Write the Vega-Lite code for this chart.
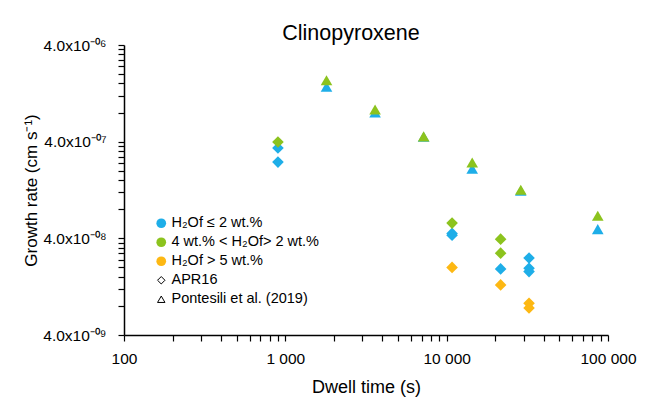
{
  "$schema": "https://vega.github.io/schema/vega-lite/v6.json",
  "width": 484,
  "height": 290,
  "autosize": {"type": "none"},
  "padding": {"left": 124, "top": 45, "right": 42, "bottom": 65},
  "background": "white",
  "title": {"text": "Clinopyroxene", "fontSize": 21.5, "font": "Liberation Sans", "fontWeight": "normal", "color": "black", "anchor": "middle", "dx": -15, "offset": -6},
  "config": {"view": {"stroke": null}, "font": "Liberation Sans"},
  "data": {"values": [
    {"t": 900, "g": 3.44e-7, "group": "H₂Of ≤ 2 wt.%", "study": "APR16"},
    {"t": 900, "g": 2.46e-7, "group": "H₂Of ≤ 2 wt.%", "study": "APR16"},
    {"t": 10800, "g": 4.5e-8, "group": "H₂Of ≤ 2 wt.%", "study": "APR16"},
    {"t": 10800, "g": 4.3e-8, "group": "H₂Of ≤ 2 wt.%", "study": "APR16"},
    {"t": 21600, "g": 1.93e-8, "group": "H₂Of ≤ 2 wt.%", "study": "APR16"},
    {"t": 32400, "g": 2.5e-8, "group": "H₂Of ≤ 2 wt.%", "study": "APR16"},
    {"t": 32400, "g": 1.96e-8, "group": "H₂Of ≤ 2 wt.%", "study": "APR16"},
    {"t": 32400, "g": 1.81e-8, "group": "H₂Of ≤ 2 wt.%", "study": "APR16"},
    {"t": 1800, "g": 1.48e-6, "group": "H₂Of ≤ 2 wt.%", "study": "Pontesili et al. (2019)"},
    {"t": 3600, "g": 8.0e-7, "group": "H₂Of ≤ 2 wt.%", "study": "Pontesili et al. (2019)"},
    {"t": 7200, "g": 4.5e-7, "group": "H₂Of ≤ 2 wt.%", "study": "Pontesili et al. (2019)"},
    {"t": 14400, "g": 2.1e-7, "group": "H₂Of ≤ 2 wt.%", "study": "Pontesili et al. (2019)"},
    {"t": 28800, "g": 1.24e-7, "group": "H₂Of ≤ 2 wt.%", "study": "Pontesili et al. (2019)"},
    {"t": 86400, "g": 4.98e-8, "group": "H₂Of ≤ 2 wt.%", "study": "Pontesili et al. (2019)"},
    {"t": 900, "g": 3.97e-7, "group": "4 wt.% < H₂Of> 2 wt.%", "study": "APR16"},
    {"t": 10800, "g": 5.75e-8, "group": "4 wt.% < H₂Of> 2 wt.%", "study": "APR16"},
    {"t": 21600, "g": 3.92e-8, "group": "4 wt.% < H₂Of> 2 wt.%", "study": "APR16"},
    {"t": 21600, "g": 2.81e-8, "group": "4 wt.% < H₂Of> 2 wt.%", "study": "APR16"},
    {"t": 1800, "g": 1.73e-6, "group": "4 wt.% < H₂Of> 2 wt.%", "study": "Pontesili et al. (2019)"},
    {"t": 3600, "g": 8.6e-7, "group": "4 wt.% < H₂Of> 2 wt.%", "study": "Pontesili et al. (2019)"},
    {"t": 7200, "g": 4.54e-7, "group": "4 wt.% < H₂Of> 2 wt.%", "study": "Pontesili et al. (2019)"},
    {"t": 14400, "g": 2.44e-7, "group": "4 wt.% < H₂Of> 2 wt.%", "study": "Pontesili et al. (2019)"},
    {"t": 28800, "g": 1.27e-7, "group": "4 wt.% < H₂Of> 2 wt.%", "study": "Pontesili et al. (2019)"},
    {"t": 86400, "g": 6.84e-8, "group": "4 wt.% < H₂Of> 2 wt.%", "study": "Pontesili et al. (2019)"},
    {"t": 10800, "g": 2.0e-8, "group": "H₂Of > 5 wt.%", "study": "APR16"},
    {"t": 21600, "g": 1.32e-8, "group": "H₂Of > 5 wt.%", "study": "APR16"},
    {"t": 32400, "g": 8.5e-9, "group": "H₂Of > 5 wt.%", "study": "APR16"},
    {"t": 32400, "g": 7.6e-9, "group": "H₂Of > 5 wt.%", "study": "APR16"}
  ]},
  "mark": {"type": "point", "filled": true, "opacity": 1, "size": 135},
  "encoding": {
    "x": {
      "field": "t", "type": "quantitative",
      "scale": {"type": "log", "domain": [100, 100000], "nice": false},
      "axis": {
        "title": "Dwell time (s)", "titleFontSize": 18, "titleFontWeight": "normal", "titleColor": "black", "titlePadding": 12,
        "values": [100,200,300,400,500,600,700,800,900,1000,2000,3000,4000,5000,6000,7000,8000,9000,10000,20000,30000,40000,50000,60000,70000,80000,90000,100000],
        "labelExpr": "datum.value == 100 ? '100' : datum.value == 1000 ? '1 000' : datum.value == 10000 ? '10 000' : datum.value == 100000 ? '100 000' : ''",
        "labelFontSize": 15.5, "labelColor": "black", "labelPadding": 10, "labelFlush": false, "labelOverlap": false,
        "grid": false, "domainColor": "black", "domainWidth": 1.5, "tickColor": "black", "tickWidth": 1.2, "tickSize": 6,
        "encode": {"ticks": {"update": {"y2": {"value": -6}}}}
      }
    },
    "y": {
      "field": "g", "type": "quantitative",
      "scale": {"type": "log", "domain": [4e-9, 4e-6], "nice": false},
      "axis": {
        "title": "Growth rate (cm s⁻¹)", "titleFontSize": 17, "titleFontWeight": "normal", "titleColor": "black", "titlePadding": 2,
        "values": [4e-9,8e-9,1.2e-8,1.6e-8,2e-8,2.4e-8,2.8e-8,3.2e-8,3.6e-8,4e-8,8e-8,1.2e-7,1.6e-7,2e-7,2.4e-7,2.8e-7,3.2e-7,3.6e-7,4e-7,8e-7,1.2e-6,1.6e-6,2e-6,2.4e-6,2.8e-6,3.2e-6,3.6e-6,4e-6],
        "labelExpr": "datum.value < 5e-9 ? '4.0x10⁻⁰⁹' : abs(datum.value - 4e-8) < 1e-10 ? '4.0x10⁻⁰⁸' : abs(datum.value - 4e-7) < 1e-9 ? '4.0x10⁻⁰⁷' : abs(datum.value - 4e-6) < 1e-8 ? '4.0x10⁻⁰⁶' : ''",
        "labelFontSize": 15.5, "labelColor": "black", "labelPadding": 12, "labelFlush": false, "labelOverlap": false,
        "grid": false, "domainColor": "black", "domainWidth": 1.5, "tickColor": "black", "tickWidth": 1.2, "tickSize": 6,
        "encode": {"ticks": {"update": {"x2": {"value": 6}}}}
      }
    },
    "color": {
      "field": "group", "type": "nominal",
      "scale": {"domain": ["H₂Of ≤ 2 wt.%", "4 wt.% < H₂Of> 2 wt.%", "H₂Of > 5 wt.%"], "range": ["#1eaee8", "#8cc31e", "#fdb813"]},
      "legend": {"title": null, "orient": "none", "legendX": 30, "legendY": 171, "symbolType": "circle", "symbolSize": 95, "symbolOpacity": 1, "labelFontSize": 14.5, "labelColor": "black", "rowPadding": 4, "labelOffset": 3}
    },
    "shape": {
      "field": "study", "type": "nominal",
      "scale": {"domain": ["APR16", "Pontesili et al. (2019)"], "range": ["diamond", "triangle-up"]},
      "legend": {"title": null, "orient": "none", "legendX": 30, "legendY": 228, "symbolSize": 55, "labelFontSize": 14.5, "labelColor": "black", "rowPadding": 4, "labelOffset": 3,
        "symbolFillColor": "white", "symbolStrokeColor": "black", "symbolStrokeWidth": 1,
        "encode": {"symbols": {"enter": {"fill": {"value": "white"}, "stroke": {"value": "black"}}, "update": {"fill": {"value": "white"}, "stroke": {"value": "black"}, "strokeWidth": {"value": 1}, "opacity": {"value": 1}}}}}
    }
  }
}
